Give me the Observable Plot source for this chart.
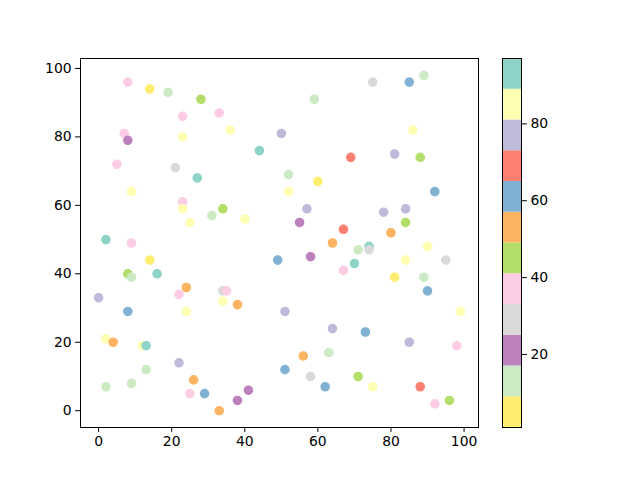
<!DOCTYPE html>
<html>
<head>
<meta charset="utf-8">
<script src="https://cdn.jsdelivr.net/npm/d3@7"></script>
<script src="https://cdn.jsdelivr.net/npm/@observablehq/plot@0.6"></script>
<style>
  html, body { margin: 0; padding: 0; background: #fff; }
  #wrap { position: relative; width: 640px; height: 480px; }
  #wrap > svg { position: absolute; left: 0; top: 0; }
</style>
</head>
<body>
<div id="wrap"></div>
<script>
const xValues = [8,14,19,28,23,33,36,7,8,23,44,5,21,27,9,23,23,34,31,40,25,2,9,
  89,75,85,59,86,50,69,81,88,52,60,52,92,57,78,84,55,84,67,80,64,
  71,74,74,90,49,58,70,84,95,67,81,89,90,51,99,64,73,85,98,56,63,51,58,71,62,75,88,92,96,
  14,8,9,16,0,24,22,34,35,34,38,8,24,2,4,12,13,22,13,26,2,9,25,29,41,38,33];
const yValues = [96,94,93,91,86,87,82,81,79,80,76,72,71,68,64,61,59,59,57,56,55,50,49,
  98,96,96,91,82,81,74,75,74,69,67,64,64,59,58,59,55,55,53,52,49,
  47,48,47,48,44,45,43,44,44,41,39,39,35,29,29,24,23,20,19,16,17,12,10,10,7,7,7,2,3,
  44,40,39,40,33,36,34,35,35,32,31,29,29,21,20,19,19,14,12,9,7,8,5,5,6,3,0];
const cValues = [37,5,13,45,37,37,85,37,21,85,93,37,29,93,85,37,85,45,13,85,85,93,37,
  13,29,61,13,85,77,69,77,45,13,5,85,61,77,77,77,21,45,69,53,53,
  13,93,29,85,61,21,93,85,29,37,5,13,61,77,85,77,61,77,37,53,13,61,29,45,61,85,69,37,45,
  5,45,13,93,77,53,37,29,37,85,53,61,85,85,53,85,93,77,13,53,13,13,37,61,21,21,53];
const xTicks = [0, 20, 40, 60, 80, 100];
const yTicks = [0, 20, 40, 60, 80, 100];
const cTicks = [20, 40, 60, 80];
const cMin = 1, cMax = 97;
const palette = ["#ffed6f","#ccebc5","#bc80bd","#d9d9d9","#fccde5","#b3de69",
  "#fdb462","#80b1d3","#fb8072","#bebada","#ffffb3","#8dd3c7"];

const nBands = palette.length;
const edges = d3.range(nBands + 1).map(i => cMin + i * (cMax - cMin) / nBands);
const colorScale = {type: "threshold", domain: edges.slice(1, -1), range: palette};
const points = xValues.map((x, i) => ({x, y: yValues[i], c: cValues[i]}));
const bands = palette.map((col, i) => ({y1: edges[i], y2: edges[i + 1], c: (edges[i] + edges[i + 1]) / 2}));

const style = {fontFamily: "DejaVu Sans", fontSize: "13.9px", color: "#000", background: "transparent", overflow: "visible"};

const main = Plot.plot({
  width: 640, height: 480,
  marginLeft: 80, marginRight: 162, marginTop: 58, marginBottom: 53,
  style,
  x: {domain: [-4.95, 103.95], ticks: xTicks, tickSize: 4.9, tickPadding: 4, label: null},
  y: {domain: [-4.9, 102.9], ticks: yTicks, tickSize: 4.9, tickPadding: 4, label: null},
  color: colorScale,
  marks: [
    Plot.dot(points, {x: "x", y: "y", fill: "c", stroke: "c", strokeWidth: 1.2, r: 4.2}),
    Plot.frame({stroke: "#000", strokeWidth: 1})
  ]
});

const bar = Plot.plot({
  width: 640, height: 480,
  marginLeft: 502, marginRight: 119, marginTop: 58, marginBottom: 53,
  style,
  x: {domain: [0, 1], axis: null},
  y: {domain: [cMin, cMax], axis: "right", ticks: cTicks, tickSize: 4.9, tickPadding: 4, label: null},
  color: colorScale,
  marks: [
    Plot.rect(bands, {x1: 0, x2: 1, y1: "y1", y2: "y2", fill: "c"}),
    Plot.frame({stroke: "#000", strokeWidth: 1})
  ]
});

const wrap = document.getElementById("wrap");
wrap.appendChild(main);
wrap.appendChild(bar);
</script>
</body>
</html>
